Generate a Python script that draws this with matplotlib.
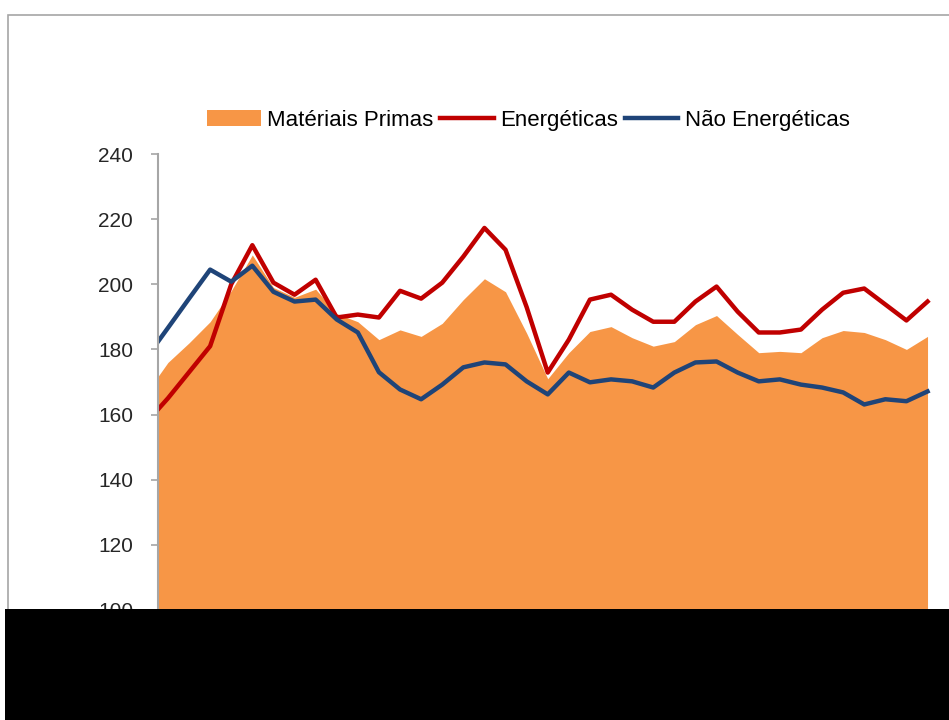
import numpy as np
import matplotlib.pyplot as plt
from matplotlib.patches import Rectangle

plt.rcParams['font.family'] = ['Liberation Sans', 'DejaVu Sans']

# posições das categorias (o primeiro ponto fica no eixo)
pos = np.concatenate([[-0.47], np.arange(37)])

materias_primas = [171.7, 176, 182, 188.5, 198, 209, 199, 196, 198.5, 191, 188.5,
                   183, 186, 184, 188, 195.3, 201.7, 197.7, 185, 171, 179,
                   185.5, 187, 183.6, 181, 182.4, 187.6, 190.4, 184.6, 179, 179.4,
                   179, 183.6, 185.8, 185.2, 183, 180, 184]
energeticas = [161.6, 165, 173, 181, 200, 212, 200.5, 196.8, 201.4, 189.8, 190.7,
               189.8, 198, 195.6, 200.5, 208.5, 217.3, 210.6, 193, 172.9, 183,
               195.3, 196.8, 192.2, 188.5, 188.5, 194.7, 199.3, 191.6, 185.2, 185.2,
               186.1, 192.2, 197.4, 198.7, 193.8, 188.9, 194.7]
nao_energeticas = [182.4, 186.6, 195.6, 204.5, 200.8, 205.7, 197.7, 194.7, 195.3, 189.2, 185.2,
                   173, 167.7, 164.7, 169.2, 174.5, 176, 175.4, 170.2, 166.2, 172.9,
                   169.9, 170.8, 170.2, 168.3, 172.9, 176, 176.3, 172.9, 170.2, 170.8,
                   169.2, 168.3, 166.8, 163.1, 164.7, 164.1, 167.1]

fig = plt.figure(figsize=(9.49, 7.2), dpi=100)
ax = fig.add_axes([0.1665, 0.1528, 0.822, 0.6333])

ax.fill_between(pos, 0, materias_primas, color='#F79646', lw=0, label='Matériais Primas')
ax.plot(pos, energeticas, color='#C00000', lw=3.2, label='Energéticas')
ax.plot(pos, nao_energeticas, color='#1F4478', lw=3.2, label='Não Energéticas')

ax.set_ylim(100, 240)
ax.set_xlim(-0.47, 36.5)
ax.set_yticks(np.arange(100, 241, 20))
ax.set_xticks([])
for s in ['top', 'right', 'bottom']:
    ax.spines[s].set_visible(False)
ax.spines['left'].set_color('#A6A6A6')
ax.spines['left'].set_linewidth(1.5)
ax.tick_params(axis='y', length=5, width=1.2, color='#A6A6A6', labelsize=15,
               labelcolor='#262626', pad=13)

fig.legend(loc='center', bbox_to_anchor=(0.557, 0.833), ncol=3, frameon=False,
           fontsize=16, handlelength=2.4, handleheight=0.75, columnspacing=0.3,
           handletextpad=0.3)

# moldura do gráfico
fig.patches.append(Rectangle((8 / 949, -0.1), 1.1, (720 - 15) / 720 + 0.1,
                             transform=fig.transFigure, fill=False,
                             edgecolor='#A6A6A6', lw=1.2, zorder=5))
# faixa preta em baixo
fig.patches.append(Rectangle((5 / 949, 0), 1.0, 111 / 720, transform=fig.transFigure,
                             facecolor='black', edgecolor='none', zorder=10))

plt.savefig('out.png', dpi=100)
